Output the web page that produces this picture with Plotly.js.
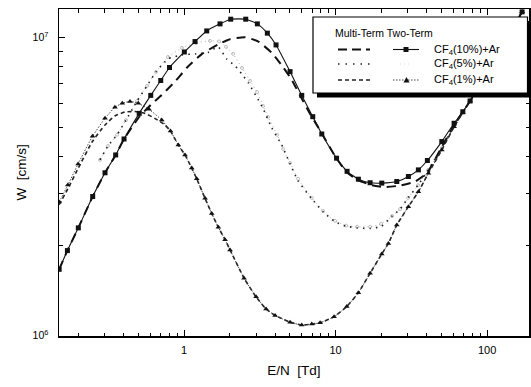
<!DOCTYPE html>
<html>
<head>
<meta charset="utf-8">
<script src="https://cdn.plot.ly/plotly-3.0.1.min.js"></script>
<style>html,body{margin:0;padding:0;background:#fff;}#chart{width:531px;height:387px;}</style>
</head>
<body>
<div id="chart"></div>
<script>
// ---- data (E/N in Td, W in cm/s) ----
const seriesLabels = ['CF<sub>4</sub>(10%)+Ar', 'CF<sub>4</sub>(5%)+Ar', 'CF<sub>4</sub>(1%)+Ar'];
const legendHeader = 'Multi-Term Two-Term';

// Two-term, CF4(10%)+Ar
const tt10_x = [0.150,0.170,0.2006,0.2496,0.301,0.354,0.402,0.506,0.603,0.702,0.802,1.005,1.182,1.412,1.728,2.033,2.554,3.047,3.547,4.048,5.008,5.983,7.071,8.11,10.15,11.91,14.14,16.90,20.18,25.35,30.24,35.20,40.36,50.23,60.56,69.13,77.23,89.9,112.9,141.8,170.2];
const tt10_y = [1.67e6,1.93e6,2.30e6,2.93e6,3.52e6,4.04e6,4.57e6,5.57e6,6.40e6,7.18e6,7.94e6,8.95e6,9.70e6,1.053e7,1.112e7,1.153e7,1.153e7,1.112e7,1.035e7,9.45e6,7.69e6,6.40e6,5.43e6,4.75e6,3.94e6,3.56e6,3.35e6,3.26e6,3.25e6,3.29e6,3.42e6,3.60e6,3.87e6,4.48e6,5.16e6,5.64e6,6.13e6,6.94e6,8.42e6,1.037e7,1.22e7];

// Multi-term, CF4(10%)+Ar
const mt10_x = [0.150,0.170,0.2006,0.2496,0.301,0.354,0.402,0.506,0.603,0.7125,0.872,1.055,1.309,1.684,2.012,2.527,3.094,3.81,4.523,5.139,6.13,6.788,7.70,10.15,11.91,14.14,17.34,21.22,26.66,33.48,40.18,50.23,60.56,69.13,77.23,89.9,112.9,141.8,170.2];
const mt10_y = [1.67e6,1.93e6,2.30e6,2.93e6,3.52e6,4.04e6,4.57e6,5.42e6,5.95e6,6.42e6,7.12e6,7.97e6,8.80e6,9.50e6,9.88e6,1.003e7,9.70e6,8.87e6,7.94e6,7.21e6,6.10e6,5.55e6,4.99e6,3.93e6,3.53e6,3.32e6,3.20e6,3.15e6,3.19e6,3.29e6,3.52e6,4.30e6,5.09e6,5.63e6,6.13e6,6.94e6,8.42e6,1.037e7,1.22e7];

// Two-term, CF4(5%)+Ar
const tt5_x = [0.279,0.315,0.361,0.414,0.490,0.570,0.653,0.784,0.970,1.200,1.484,1.702,1.893,2.106,2.415,2.727,3.033,3.323,3.584,4.111,4.503,5.008,5.655,6.965,8.27,9.92,11.73,13.87,16.90,19.96,23.60,26.66,30.10,35.04,40.80,50.23,60.56,69.13,77.23,89.9,112.9,141.8,170.2];
const tt5_y = [3.89e6,4.33e6,4.72e6,5.29e6,6.13e6,6.89e6,7.67e6,8.61e6,9.24e6,9.60e6,9.75e6,9.71e6,9.31e6,8.82e6,7.91e6,7.16e6,6.57e6,5.90e6,5.42e6,4.72e6,4.23e6,3.80e6,3.36e6,2.90e6,2.62e6,2.43e6,2.34e6,2.32e6,2.32e6,2.37e6,2.52e6,2.66e6,2.90e6,3.20e6,3.60e6,4.26e6,5.06e6,5.63e6,6.13e6,6.94e6,8.42e6,1.037e7,1.22e7];

// Multi-term, CF4(5%)+Ar
const mt5_x = [0.279,0.315,0.361,0.414,0.490,0.570,0.653,0.784,0.970,1.200,1.440,1.677,1.913,2.171,2.404,2.658,3.094,3.338,3.793,4.415,5.008,5.655,6.965,8.31,9.92,11.73,13.87,16.90,20.18,23.60,26.66,30.10,35.04,40.80,50.23,60.56,69.13,77.23,89.9,112.9,141.8,170.2];
const mt5_y = [3.89e6,4.33e6,4.72e6,5.29e6,6.13e6,6.89e6,7.67e6,8.48e6,8.75e6,8.82e6,8.92e6,9.31e6,8.48e6,8.04e6,7.56e6,7.05e6,6.18e6,5.76e6,4.98e6,4.36e6,3.77e6,3.31e6,2.88e6,2.60e6,2.41e6,2.33e6,2.30e6,2.29e6,2.33e6,2.52e6,2.66e6,2.90e6,3.20e6,3.60e6,4.26e6,5.06e6,5.63e6,6.13e6,6.94e6,8.42e6,1.037e7,1.22e7];

// Two-term, CF4(1%)+Ar
const tt1_x = [0.150,0.171,0.200,0.249,0.301,0.350,0.3915,0.440,0.499,0.587,0.7125,0.814,0.917,1.015,1.124,1.213,1.376,1.523,1.684,1.865,2.012,2.489,2.987,3.477,3.988,5.008,5.983,6.965,7.901,9.774,11.86,14.14,16.90,20.18,22.32,25.35,30.24,35.20,40.98,50.23,60.56,69.13,77.23,89.9,112.9,141.8,170.2];
const tt1_y = [2.81e6,3.20e6,3.77e6,4.67e6,5.36e6,5.84e6,6.02e6,6.11e6,6.02e6,5.75e6,5.29e6,4.86e6,4.36e6,4.04e6,3.65e6,3.36e6,2.89e6,2.57e6,2.31e6,2.10e6,1.94e6,1.56e6,1.35e6,1.23e6,1.17e6,1.11e6,1.086e6,1.094e6,1.105e6,1.158e6,1.253e6,1.394e6,1.62e6,1.88e6,2.04e6,2.35e6,2.71e6,3.04e6,3.51e6,4.20e6,5.02e6,5.61e6,6.13e6,6.94e6,8.42e6,1.037e7,1.22e7];

// Multi-term, CF4(1%)+Ar
const mt1_x = [0.150,0.171,0.200,0.249,0.301,0.350,0.408,0.475,0.553,0.650,0.749,0.814,0.917,1.015,1.124,1.213,1.376,1.523,1.684,1.865,2.012,2.489,2.987,3.477,3.988,5.008,5.983,6.965,7.901,9.774,11.86,14.14,16.90,20.18,22.32,25.35,30.24,35.20,40.98,50.23,60.56,69.13,77.23,89.9,112.9,141.8,170.2];
const mt1_y = [2.75e6,3.11e6,3.64e6,4.49e6,5.09e6,5.46e6,5.63e6,5.65e6,5.57e6,5.34e6,5.09e6,4.86e6,4.36e6,4.04e6,3.65e6,3.36e6,2.89e6,2.57e6,2.31e6,2.10e6,1.94e6,1.56e6,1.35e6,1.23e6,1.17e6,1.11e6,1.086e6,1.094e6,1.105e6,1.158e6,1.253e6,1.394e6,1.62e6,1.88e6,2.04e6,2.35e6,2.71e6,3.04e6,3.51e6,4.20e6,5.02e6,5.61e6,6.13e6,6.94e6,8.42e6,1.037e7,1.22e7];

// axis ticks
const xMajor = [1, 10, 100];
const xMajorText = ['1', '10', '100'];
const xMinor = [0.2,0.3,0.4,0.5,0.6,0.7,0.8,0.9,2,3,4,5,6,7,8,9,20,30,40,50,60,70,80,90];
const yMajor = [1e6, 1e7];
const yMajorText = ['10<sup>6</sup>', '10<sup>7</sup>'];
const yMinor = [2e6,3e6,4e6,5e6,6e6,7e6,8e6,9e6];

// ---- drawing ----
const FONT = 'Liberation Sans, Arial, sans-serif';
const L = 59, R = 529, T = 9, B = 336;
const pxX = p => (p - L) / (R - L);
const pxY = p => (B - p) / (B - T);

function tr(x, y, line, marker) {
  return {x: x, y: y, type: 'scatter', mode: marker ? 'lines+markers' : 'lines',
          line: Object.assign({shape: 'spline', smoothing: 0.5}, line),
          marker: marker || {}, showlegend: false, hoverinfo: 'skip'};
}

const traces = [
  tr(tt5_x, tt5_y, {color: '#b0b0b0', width: 1, dash: '1px,3px'}, {symbol: 'circle-open', size: 3, color: '#b0b0b0', line: {width: 0.8}}),
  tr(mt5_x, mt5_y, {color: '#222', width: 1.6, dash: '1.5px,5px'}),
  tr(mt10_x, mt10_y, {color: '#111', width: 2, dash: '9px,6px'}),
  tr(mt1_x, mt1_y, {color: '#222', width: 1.6, dash: '4px,3px'}),
  tr(tt1_x, tt1_y, {color: '#333', width: 0.9, dash: '1.5px,1.5px'}, {symbol: 'triangle-up', size: 5, color: '#111'}),
  tr(tt10_x, tt10_y, {color: '#111', width: 1.1}, {symbol: 'square', size: 5, color: '#111'})
];

// legend drawn as shapes + annotations
const rowY = [49.5, 64, 80];
const shapes = [
  {type: 'rect', xref: 'paper', yref: 'paper', x0: pxX(317), x1: pxX(531.5), y0: pxY(97.5), y1: pxY(21), fillcolor: '#000', line: {width: 0}, layer: 'above'},
  {type: 'rect', xref: 'paper', yref: 'paper', x0: pxX(313), x1: pxX(527.5), y0: pxY(93), y1: pxY(17), fillcolor: '#fff', line: {color: '#000', width: 1.2}, layer: 'above'}
];
function seg(x0, x1, y, line) {
  shapes.push({type: 'line', xref: 'paper', yref: 'paper', x0: pxX(x0), x1: pxX(x1), y0: pxY(y), y1: pxY(y), line: line, layer: 'above'});
}
seg(338, 370, rowY[0], {color: '#111', width: 2, dash: '9px,5px'});
seg(393, 419, rowY[0], {color: '#111', width: 1.1});
shapes.push({type: 'rect', xref: 'paper', yref: 'paper', x0: pxX(403.5), x1: pxX(408.5), y0: pxY(rowY[0] + 2.5), y1: pxY(rowY[0] - 2.5), fillcolor: '#111', line: {width: 0}, layer: 'above'});
seg(338, 370, rowY[1], {color: '#222', width: 1.6, dash: '1.5px,6px'});
seg(400, 412, rowY[1], {color: '#ddd', width: 1, dash: '1px,3px'});
seg(338, 370, rowY[2], {color: '#222', width: 1.6, dash: '4px,3px'});
seg(393, 419, rowY[2], {color: '#333', width: 0.9, dash: '1.5px,1.5px'});
shapes.push({type: 'path', xref: 'paper', yref: 'paper', fillcolor: '#111', line: {width: 0}, layer: 'above',
  path: 'M ' + pxX(403.5) + ' ' + pxY(rowY[2] + 2.5) + ' L ' + pxX(409.5) + ' ' + pxY(rowY[2] + 2.5) + ' L ' + pxX(406.5) + ' ' + pxY(rowY[2] - 3) + ' Z'});

const annotations = [
  {xref: 'paper', yref: 'paper', x: pxX(333), y: pxY(33), xanchor: 'left', yanchor: 'middle', text: legendHeader, showarrow: false, font: {family: FONT, size: 10.5, color: '#000'}}
];
seriesLabels.forEach((t, i) => annotations.push({xref: 'paper', yref: 'paper', x: pxX(432), y: pxY(rowY[i]), xanchor: 'left', yanchor: 'middle', text: t, showarrow: false, font: {family: FONT, size: 11, color: '#000'}}));

const axisCommon = {
  type: 'log', showgrid: false, zeroline: false, showline: true, linecolor: '#000', linewidth: 1.5,
  mirror: 'ticks', ticks: 'inside', ticklen: 6, tickwidth: 1, tickcolor: '#000', tickmode: 'array',
  tickfont: {family: FONT, size: 11, color: '#000'}
};

const layout = {
  width: 531, height: 387,
  margin: {l: L, r: 531 - R, t: T, b: 387 - B},
  paper_bgcolor: '#fff', plot_bgcolor: '#fff',
  showlegend: false,
  xaxis: Object.assign({}, axisCommon, {
    range: [Math.log10(0.1496), Math.log10(189)],
    tickvals: xMajor, ticktext: xMajorText, ticklabelstandoff: 3,
    minor: {tickmode: 'array', tickvals: xMinor, ticks: 'inside', ticklen: 3.5, tickcolor: '#000', showgrid: false},
    title: {text: 'E/N  [Td]', font: {family: FONT, size: 13.5, color: '#000'}, standoff: 11}
  }),
  yaxis: Object.assign({}, axisCommon, {
    range: [5.999, 7.096],
    tickvals: yMajor, ticktext: yMajorText, ticklabelstandoff: 7,
    tickfont: {family: FONT, size: 10.5, color: '#000'},
    minor: {tickmode: 'array', tickvals: yMinor, ticks: 'inside', ticklen: 3.5, tickcolor: '#000', showgrid: false},
    title: {text: 'W  [cm/s]', font: {family: FONT, size: 13.5, color: '#000'}, standoff: 3}
  }),
  shapes: shapes,
  annotations: annotations
};

Plotly.newPlot('chart', traces, layout, {staticPlot: true, displayModeBar: false});
</script>
</body>
</html>
